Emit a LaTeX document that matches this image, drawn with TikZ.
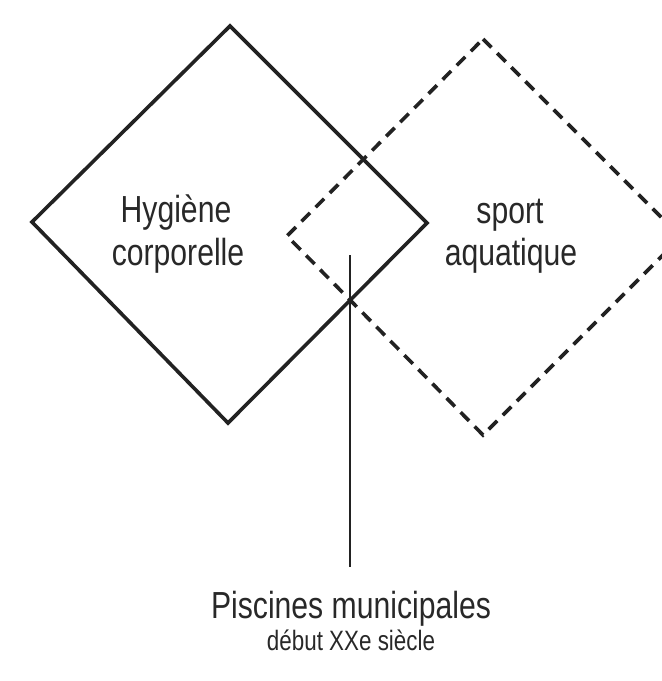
\documentclass[tikz,border=0pt]{standalone}
\usepackage{fontspec}
\setmainfont{Liberation Sans}[FakeStretch=0.8]
\begin{document}
\begin{tikzpicture}[x=1pt,y=-1pt,
  ink/.style={color={rgb,255:red,34;green,34;blue,34}},
  solidbox/.style={ink,draw,line width=3.6pt,line join=miter},
  dashbox/.style={ink,draw,line width=3.6pt,dash pattern=on 12pt off 8pt,line join=miter},
  stem/.style={ink,draw,line width=2.4pt},
  bigtext/.style={inner sep=0pt,anchor=base,text={rgb,255:red,40;green,40;blue,40},font=\fontsize{37.7}{43}\selectfont},
  smalltext/.style={inner sep=0pt,anchor=base,text={rgb,255:red,40;green,40;blue,40},font=\fontsize{28}{32}\selectfont}]
\useasboundingbox (0,0) rectangle (662,681);
\clip (0,0) rectangle (662,681);
% solid diamond
\coordinate (st) at (230,26);
\coordinate (sr) at (427,223);
\coordinate (sb) at (228,423);
\coordinate (sl) at (32,222);
\draw[solidbox] (st) -- (sr) -- (sb) -- (sl) -- cycle;
% dashed diamond
\coordinate (dt) at (483,39);
\coordinate (dr) at (681,237);
\coordinate (db) at (483,435);
\coordinate (dl) at (287,236);
\draw[dashbox] (dt) -- (dr) -- (db) -- (dl) -- cycle;
% labels
\node[bigtext] (hyg) at (176,222) {Hygiène};
\node[bigtext] (corp) at (178,265) {corporelle};
\node[bigtext] (sport) at (510,223) {sport};
\node[bigtext] (aqua) at (511,265) {aquatique};
\node[bigtext] (pisc) at (351,618) {Piscines municipales};
\node[smalltext] (debut) at (351,650) {début XXe siècle};
% stem
\coordinate (stemtop) at (350,255);
\coordinate (stembot) at (350,567);
\draw[stem] (stemtop) -- (stembot);
\end{tikzpicture}
\end{document}
